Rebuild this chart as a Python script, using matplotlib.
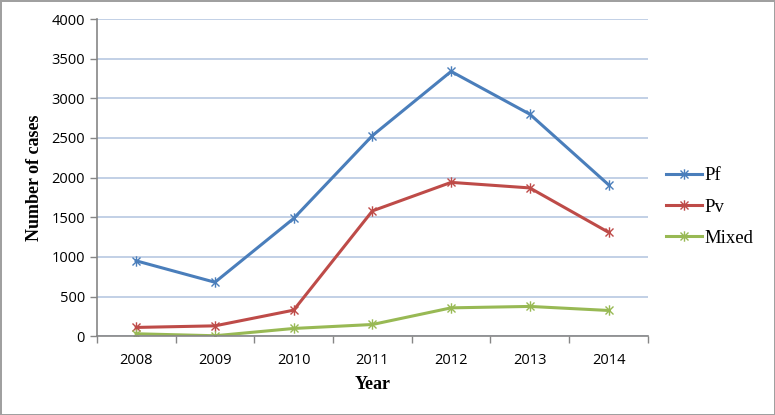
import matplotlib.pyplot as plt
from matplotlib.path import Path

years = ['2008', '2009', '2010', '2011', '2012', '2013', '2014']
pf = [950, 680, 1485, 2530, 3340, 2800, 1910]
pv = [110, 130, 328, 1580, 1940, 1870, 1310]
mixed = [30, 5, 97, 147, 357, 375, 324]

series = [('Pf', pf, '#4a7ebb'), ('Pv', pv, '#be4b48'), ('Mixed', mixed, '#98b954')]

# excel style star marker: an X with a vertical bar
star = Path([(-1, -1), (1, 1), (-1, 1), (1, -1), (0, -1.3), (0, 1.3)],
            [Path.MOVETO, Path.LINETO, Path.MOVETO, Path.LINETO, Path.MOVETO, Path.LINETO])

fig = plt.figure(figsize=(7.75, 4.15), dpi=100)
fig.patch.set_edgecolor('#a0a0a0')
fig.patch.set_linewidth(2)
ax = fig.add_axes([0.125, 0.19, 0.711, 0.764])

x = range(len(years))
for name, vals, col in series:
    ax.plot(x, vals, color=col, lw=2.2, marker=star, markersize=7.5,
            markeredgewidth=1.0, label=name)

ax.set_xlim(-0.5, len(years) - 0.5)
ax.set_ylim(0, 4000)
ax.set_yticks(range(0, 4001, 500))
ax.set_xticks(list(x))
ax.set_xticklabels(years)
ax.set_xticks([i - 0.5 for i in range(len(years) + 1)], minor=True)
ax.tick_params(axis='x', which='major', length=0, pad=12)
ax.tick_params(axis='x', which='minor', length=5, color='#868686', width=1)
ax.tick_params(axis='y', length=5, color='#868686', width=1, direction='out')
for lab in ax.get_xticklabels() + ax.get_yticklabels():
    lab.set_family('Open Sans')
    lab.set_fontsize(10.5)
ax.grid(axis='y', color='#b8c8e2', lw=1.2)
ax.set_axisbelow(True)
for s in ['top', 'right']:
    ax.spines[s].set_visible(False)
for s in ['left', 'bottom']:
    ax.spines[s].set_color('#868686')
    ax.spines[s].set_linewidth(1.2)

ax.set_ylabel('Number of cases', family='Liberation Serif', fontweight='bold', fontsize=13, labelpad=6)
ax.set_xlabel('Year', family='Liberation Serif', fontweight='bold', fontsize=13, labelpad=6)

ax.legend(loc='center left', bbox_to_anchor=(1.02, 0.407), frameon=False,
          prop={'family': 'Liberation Serif', 'size': 13.5}, handlelength=1.9,
          handletextpad=0.15, labelspacing=0.75, borderaxespad=0)

plt.savefig('out.png', dpi=100)
